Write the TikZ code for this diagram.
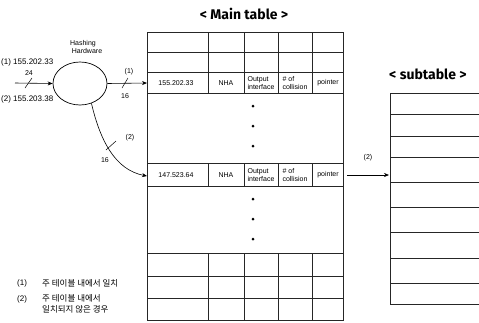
\documentclass[tikz,border=0pt]{standalone}
\usepackage{fontspec}
\setmainfont{Liberation Sans}
\newfontfamily\titlefont{Fira Sans}
\newfontfamily\krfont{Noto Sans CJK KR}
\usetikzlibrary{arrows.meta,shapes.geometric}
\begin{document}
\begin{tikzpicture}[x=1pt,y=-1pt,
  tbl/.style={line width=0.7pt,draw=black!85},
  lbl/.style={font=\fontsize{7}{8}\selectfont,inner sep=0pt},
  iplbl/.style={font=\fontsize{8}{8}\selectfont,inner sep=0pt},
  cell/.style={font=\fontsize{7}{7.5}\selectfont,inner sep=0pt,align=left},
  ttl/.style={font=\titlefont\bfseries\fontsize{14}{14}\selectfont,inner sep=0pt},
  kr/.style={font=\krfont\fontsize{8.5}{11}\selectfont,inner sep=0pt,align=left},
  arr/.style={line width=0.6pt,-{Stealth[length=5pt,width=4pt]}},
  dotm/.style={circle,fill=black,inner sep=0pt,minimum size=3pt}]
\useasboundingbox (0,0) rectangle (479,322);
% titles
\node[ttl] (tmain) at (244,14) {< Main table >};
\node[ttl,anchor=west] (tsub) at (389,74) {< subtable >};
% main table
\draw[tbl] (147,32) rectangle (343,320);
\foreach \y in {52,72,93,163,186,253,276,298}{\draw[tbl] (147,\y) -- (343,\y);}
\foreach \x in {208,244,278,312}{
  \draw[tbl] (\x,32) -- (\x,93);
  \draw[tbl] (\x,163) -- (\x,186);
  \draw[tbl] (\x,253) -- (\x,320);}
\foreach \y [count=\i] in {106,126,146,199,219,239}{\node[dotm] (d\i) at (253,\y) {};}
% row 1
\node[cell] (a1) at (176,83) {155.202.33};
\node[cell] (b1) at (226,83) {NHA};
\node[cell] (c1) at (261,83) {Output\\interface};
\node[cell] (e1) at (295,83) {\# of\\collision};
\node[cell] (f1) at (328,83) {pointer};
% row 2
\node[cell] (a2) at (176,175) {147.523.64};
\node[cell] (b2) at (226,175) {NHA};
\node[cell] (c2) at (261,175) {Output\\interface};
\node[cell] (e2) at (295,175) {\# of\\collision};
\node[cell] (f2) at (328,175) {pointer};
\coordinate (row1in) at (147,83);
\coordinate (row2in) at (147,176);
\coordinate (row2out) at (347,175);
% subtable
\draw[tbl] (390,93) -- (390,304);
\foreach \y in {93,114,136,157,182,207,232,258,283,304}{\draw[tbl] (390,\y) -- (479,\y);}
\coordinate (subin) at (389,175);
% hashing
\node[draw,ellipse,line width=0.7pt,minimum width=54pt,minimum height=43pt,inner sep=0pt] (hash) at (80,83.5) {};
\node[lbl,align=center] (hh) at (83,47) {Hashing\\\hspace*{8pt}Hardware};
\coordinate (in) at (15,83);
\draw[arr] (in) -- (hash.west);
\draw[line width=0.5pt] (25,88) -- (32,78);
\node[lbl] (l24) at (29,73) {24};
\node[iplbl,anchor=west] (ip1) at (1,62) {(1) 155.202.33};
\node[iplbl,anchor=west] (ip2) at (1,99.5) {(2) 155.203.38};
\draw[arr] (hash.east) -- (row1in);
\draw[line width=0.5pt] (122,88) -- (128,78);
\node[lbl] (o1) at (129,72) {(1)};
\node[lbl] (o16) at (125,96) {16};
\draw[arr] (hash.-60) .. controls (100,140) and (115,170) .. (row2in);
\draw[line width=0.5pt] (106,150) -- (116,141);
\node[lbl] (o2) at (130,138) {(2)};
\node[lbl] (o216) at (105,160) {16};
\draw[arr] (row2out) -- (subin);
\node[lbl] (p2) at (368,158) {(2)};
% legend
\node[iplbl,anchor=west] (g1) at (17,283) {(1)};
\node[kr,anchor=west] (g1t) at (42,283) {주 테이블 내에서 일치};
\node[iplbl,anchor=west] (g2) at (17,299) {(2)};
\node[kr,anchor=north west] (g2t) at (42,294) {주 테이블 내에서\\일치되지 않은 경우};
\end{tikzpicture}
\end{document}
